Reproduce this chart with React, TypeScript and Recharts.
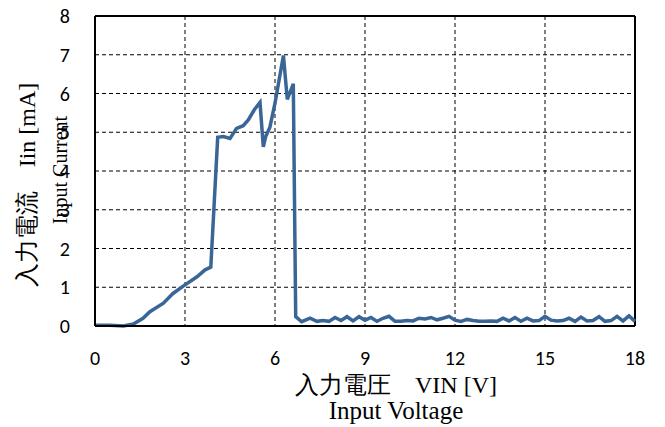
import React from "react";
import {
  LineChart,
  Line,
  XAxis,
  YAxis,
  CartesianGrid,
  ReferenceLine,
  Label,
} from "recharts";

// input voltage sweep [V]
const vin = [
  0, 0.5, 0.95, 1.28, 1.6, 1.83, 2.28, 2.6, 3.0, 3.4, 3.67, 3.86, 4.09, 4.28, 4.5,
  4.72, 4.94, 5.11, 5.31, 5.5, 5.61, 5.69, 5.83, 6.0, 6.28, 6.41, 6.61, 6.69,
  6.89, 7.17, 7.4, 7.6, 7.8, 8.0, 8.2, 8.4, 8.6, 8.8, 9.0, 9.2, 9.4, 9.6, 9.8,
  10.0, 10.2, 10.4, 10.6, 10.8, 11.0, 11.2, 11.4, 11.6, 11.8, 12.0, 12.2, 12.4,
  12.6, 12.8, 13.0, 13.2, 13.4, 13.6, 13.8, 14.0, 14.2, 14.4, 14.6, 14.8, 15.0,
  15.2, 15.4, 15.6, 15.8, 16.0, 16.2, 16.4, 16.6, 16.8, 17.0, 17.2, 17.4, 17.6,
  17.8, 18.0,
];

// input current [mA]
const iin = [
  0.02, 0.02, 0.0, 0.05, 0.2, 0.37, 0.59, 0.84, 1.06, 1.27, 1.45, 1.52, 4.87,
  4.89, 4.84, 5.1, 5.17, 5.32, 5.58, 5.77, 4.62, 4.89, 5.13, 5.75, 6.98, 5.85,
  6.25, 0.24, 0.11, 0.2, 0.12, 0.14, 0.12, 0.22, 0.14, 0.24, 0.13, 0.24, 0.15,
  0.22, 0.12, 0.2, 0.25, 0.12, 0.12, 0.14, 0.13, 0.2, 0.18, 0.22, 0.16, 0.2,
  0.25, 0.15, 0.12, 0.17, 0.14, 0.12, 0.12, 0.13, 0.12, 0.2, 0.13, 0.22, 0.12,
  0.2, 0.13, 0.14, 0.25, 0.15, 0.13, 0.14, 0.2, 0.12, 0.23, 0.13, 0.14, 0.24,
  0.12, 0.14, 0.25, 0.13, 0.26, 0.12,
];

const xTicks = [0, 3, 6, 9, 12, 15, 18];
const yTicks = [0, 1, 2, 3, 4, 5, 6, 7, 8];

const data = vin.map((v, i) => ({ v, i: iin[i] }));

const tickFont = { fontFamily: "Carlito, 'Open Sans', sans-serif", fontSize: 20, fill: "#000" };
const serif = "'Liberation Serif', 'Times New Roman', serif";

export default function App() {
  return (
    <div style={{ position: "absolute", left: 0, top: 0, background: "#fff" }}>
      <LineChart
        width={665}
        height={427}
        data={data}
        margin={{ top: 16, right: 30, bottom: 0, left: 0 }}
      >
        <CartesianGrid stroke="#000" strokeDasharray="4 3" strokeWidth={1} />
        <XAxis
          dataKey="v"
          type="number"
          domain={[0, 18]}
          ticks={xTicks}
          height={101}
          tick={tickFont}
          tickLine={false}
          tickMargin={19}
          axisLine={{ stroke: "#000", strokeWidth: 2 }}
        >
          <Label
            content={() => (
              <g fontFamily={serif} fill="#000">
                <text x={396} y={393} fontSize={24} textAnchor="middle">
                  入力電圧　VIN [V]
                </text>
                <text x={396} y={419} fontSize={25} textAnchor="middle">
                  Input Voltage
                </text>
              </g>
            )}
          />
        </XAxis>
        <YAxis
          type="number"
          domain={[0, 8]}
          ticks={yTicks}
          width={95}
          tick={tickFont}
          tickLine={false}
          tickMargin={19}
          axisLine={{ stroke: "#000", strokeWidth: 2 }}
        >
          <Label
            content={() => (
              <g fontFamily={serif} fill="#000">
                <text
                  x={35}
                  y={185}
                  fontSize={24}
                  textAnchor="middle"
                  transform="rotate(-90 35 185)"
                >
                  入力電流　Iin [mA]
                </text>
                <text
                  x={67}
                  y={170}
                  fontSize={20}
                  textAnchor="middle"
                  transform="rotate(-90 67 170)"
                >
                  Input Current
                </text>
              </g>
            )}
          />
        </YAxis>
        <ReferenceLine y={8} stroke="#000" strokeWidth={2} />
        <ReferenceLine x={18} stroke="#000" strokeWidth={2} />
        <Line
          type="linear"
          dataKey="i"
          stroke="#3A6597"
          strokeWidth={3.5}
          dot={false}
          isAnimationActive={false}
        />
      </LineChart>
    </div>
  );
}
